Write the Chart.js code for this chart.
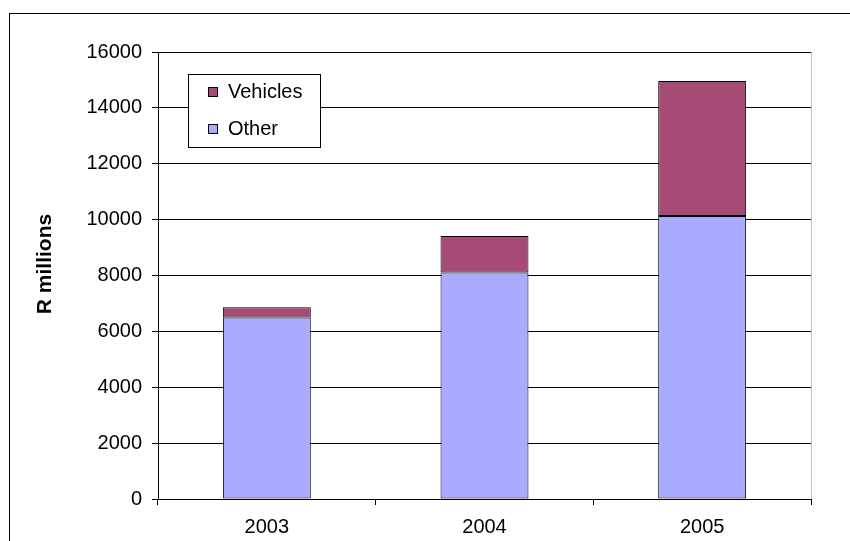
<!DOCTYPE html>
<html>
<head>
<meta charset="utf-8">
<script src="https://cdn.jsdelivr.net/npm/chart.js@4/dist/chart.umd.min.js"></script>
<style>
  html, body { margin: 0; padding: 0; background: #fff; }
  #wrap { width: 850px; height: 541px; position: relative; }
</style>
</head>
<body>
<div id="wrap"><canvas id="sales"></canvas></div>
<script>
var years = ['2003', '2004', '2005'];
var other = [6500, 8110, 10130];
var vehicles = [360, 1300, 4830];
var yTicks = [0, 2000, 4000, 6000, 8000, 10000, 12000, 14000, 16000];
var yTitle = 'R millions';

var FONT = "'Liberation Sans', Arial, sans-serif";

// frame around the whole chart, right plot edge, axis title and the boxed legend
var decorations = {
    id: 'decorations',
    beforeDraw: function (chart) {
        var ctx = chart.ctx;
        ctx.save();
        ctx.fillStyle = '#fff';
        ctx.fillRect(0, 0, chart.width, chart.height);
        ctx.strokeStyle = '#000';
        ctx.lineWidth = 1;
        ctx.strokeRect(9.5, 13.5, 1000, 1000);
        ctx.restore();
    },
    afterDraw: function (chart) {
        var ctx = chart.ctx;
        var area = chart.chartArea;
        ctx.save();

        ctx.strokeStyle = '#c0c0c0';
        ctx.lineWidth = 1;
        ctx.beginPath();
        ctx.moveTo(Math.round(area.right) + 0.5, area.top);
        ctx.lineTo(Math.round(area.right) + 0.5, area.bottom);
        ctx.stroke();

        ctx.fillStyle = '#000';
        ctx.font = 'bold 21px ' + FONT;
        ctx.textAlign = 'center';
        ctx.textBaseline = 'middle';
        ctx.translate(45, 264);
        ctx.rotate(-Math.PI / 2);
        ctx.fillText(yTitle, 0, 0);
        ctx.setTransform(1, 0, 0, 1, 0, 0);

        // legend: last series first
        var x = 188.5, y = 74.5, w = 132, h = 73;
        ctx.fillStyle = '#fff';
        ctx.fillRect(x, y, w, h);
        ctx.strokeStyle = '#000';
        ctx.strokeRect(x, y, w, h);
        ctx.font = '20px ' + FONT;
        ctx.textAlign = 'left';
        var sets = chart.data.datasets.slice().reverse();
        sets.forEach(function (ds, i) {
            var cy = 92 + i * 37;
            ctx.fillStyle = ds.backgroundColor;
            ctx.fillRect(208, cy - 5, 10, 10);
            ctx.strokeStyle = '#000';
            ctx.strokeRect(208.5, cy - 4.5, 9, 9);
            ctx.fillStyle = '#000';
            ctx.fillText(ds.label, 228, cy);
        });
        ctx.restore();
    }
};

var ctx = document.getElementById('sales').getContext('2d');

var chart = new Chart(ctx, {
    type: 'bar',
    data: {
        labels: years,
        datasets: [{
            label: 'Other',
            data: other,
            backgroundColor: '#aaaaff',
            borderColor: '#000',
            borderWidth: 1,
            borderSkipped: false,
            categoryPercentage: 1,
            barPercentage: 0.404
        }, {
            label: 'Vehicles',
            data: vehicles,
            backgroundColor: '#a64a76',
            borderColor: '#000',
            borderWidth: 1,
            borderSkipped: false,
            categoryPercentage: 1,
            barPercentage: 0.404
        }]
    },
    options: {
        responsive: true,
        maintainAspectRatio: false,
        animation: false,
        layout: { padding: { left: 0, top: 52, right: 39, bottom: 0 } },
        plugins: {
            legend: { display: false },
            tooltip: { enabled: false }
        },
        scales: {
            x: {
                stacked: true,
                grid: { drawOnChartArea: false, drawTicks: true, tickLength: 6, color: '#000', offset: true },
                border: { color: '#000' },
                ticks: { color: '#000', font: { family: FONT, size: 20 }, padding: 10 },
                afterFit: function (scale) { scale.height = 42; }
            },
            y: {
                stacked: true,
                min: 0,
                max: 16000,
                afterBuildTicks: function (scale) {
                    scale.ticks = yTicks.map(function (v) { return { value: v }; });
                },
                grid: { color: '#000', tickLength: 6, tickColor: '#000' },
                border: { color: '#000' },
                ticks: {
                    color: '#000',
                    font: { family: FONT, size: 20 },
                    padding: 10,
                    callback: function (value) { return String(value); }
                },
                afterFit: function (scale) { scale.width = 158; }
            }
        }
    },
    plugins: [decorations]
});
</script>
</body>
</html>
